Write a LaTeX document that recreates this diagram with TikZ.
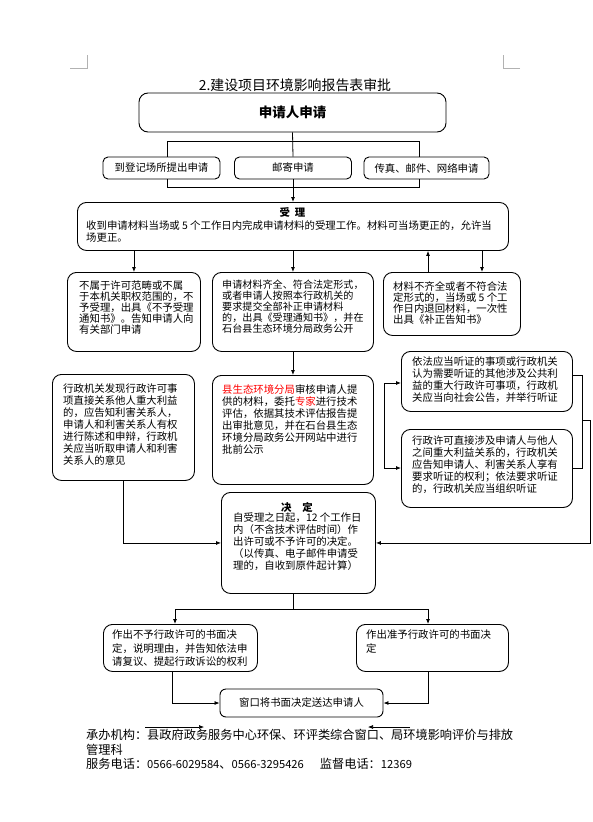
\documentclass[tikz,border=0pt]{standalone}
\usepackage{fontspec}
\setmainfont{Noto Sans CJK SC}
\usetikzlibrary{positioning,arrows.meta}
\newcommand\footfont{\fontsize{12.2}{14}\selectfont}
\newcommand\headfont{\fontsize{13.9}{16}\selectfont}
\newcommand\telno[1]{{\fontsize{11.2}{14}\selectfont #1}}

\begin{document}
\begin{tikzpicture}[x=1pt, y=-1pt,
  font=\fontsize{10.4}{12}\selectfont,
  box/.style={draw, rounded corners=9pt, line width=0.9pt, inner sep=0pt, anchor=north west},
  waybox/.style={draw, rounded corners=5pt, line width=0.9pt, inner sep=0pt, minimum height=22pt},
  txt/.style={align=left, inner sep=0pt, anchor=north west},
  foot/.style={align=left, inner sep=0pt, anchor=west, font=\footfont},
  link/.style={line width=0.8pt},
  arr/.style={-{Latex[length=5pt,width=4pt]}, line width=0.8pt}
]
\useasboundingbox (0,0) rectangle (593,822);

% page corner marks
\draw[gray!60, line width=0.6pt] (70,68) -- (87,68) -- (87,55);
\draw[gray!60, line width=0.6pt] (520,68) -- (503,68) -- (503,55);

% title
\node[font=\headfont] (title) at (295,85) {2.建设项目环境影响报告表审批};

% application
\node[draw, rounded corners=9pt, line width=0.9pt, minimum width=307pt, minimum height=39pt] (apply) at (292.5,112.5) {\fontsize{13.5}{16}\selectfont\bfseries 申请人申请};

\node[waybox, minimum width=117pt] (way1) at (161.5,168) {到登记场所提出申请};
\node[waybox, minimum width=117pt] (way2) at (293,168) {邮寄申请};
\node[waybox, minimum width=125pt] (way3) at (426.5,168) {传真、邮件、网络申请};

% acceptance
\node[box, minimum width=431pt, minimum height=48pt] (accept) at (77,202) {};
\node (acceptHead) at (292.5,212) {\bfseries 受\hspace{5pt}理};
\node[txt] (acceptTxt) at (86,220) {收到申请材料当场或 5 个工作日内完成申请材料的受理工作。材料可当场更正的，允许当\\场更正。};

% row of outcomes
\node[box, minimum width=133pt, minimum height=79pt] (boxA) at (67,272) {};
\node[txt, font=\fontsize{10.4}{11}\selectfont] (boxAtxt) at (79,281) {不属于许可范畴或不属\\于本机关职权范围的，不\\予受理，出具《不予受理\\通知书》。告知申请人向\\有关部门申请};

\node[box, minimum width=161pt, minimum height=79pt] (boxB) at (212,272) {};
\node[txt, font=\fontsize{10.1}{11}\selectfont] (boxBtxt) at (222,280) {申请材料齐全、符合法定形式，\\或者申请人按照本行政机关的\\要求提交全部补正申请材料\\的，出具《受理通知书》，并在\\石台县生态环境分局政务公开};

\node[box, minimum width=137pt, minimum height=63pt] (boxC) at (383,272) {};
\node[txt, font=\fontsize{10.4}{11}\selectfont] (boxCtxt) at (393,281) {材料不齐全或者不符合法\\定形式的，当场或 5 个工\\作日内退回材料，一次性\\出具《补正告知书》};

% review
\node[box, minimum width=142pt, minimum height=106pt] (boxE) at (52,374) {};
\node[txt] (boxEtxt) at (63,384) {行政机关发现行政许可事\\项直接关系他人重大利益\\的，应告知利害关系人，\\申请人和利害关系人有权\\进行陈述和申辩，行政机\\关应当听取申请人和利害\\关系人的意见};

\node[box, minimum width=161pt, minimum height=109pt] (boxF) at (212,375) {};
\node[txt] (boxFtxt) at (222,384) {\textcolor{red}{县生态环境分局}审核申请人提\\供的材料，委托\textcolor{red}{专家}进行技术\\评估，依据其技术评估报告提\\出审批意见，并在石台县生态\\环境分局政务公开网站中进行\\批前公示};

\node[box, minimum width=171pt, minimum height=60pt] (boxD) at (401,351) {};
\node[txt] (boxDtxt) at (412,356) {依法应当听证的事项或行政机关\\认为需要听证的其他涉及公共利\\益的重大行政许可事项，行政机\\关应当向社会公告，并举行听证};

\node[box, minimum width=171pt, minimum height=78pt] (boxG) at (401,429) {};
\node[txt] (boxGtxt) at (412,436) {行政许可直接涉及申请人与他人\\之间重大利益关系的，行政机关\\应告知申请人、利害关系人享有\\要求听证的权利；依法要求听证\\的，行政机关应当组织听证};

% decision
\node[box, minimum width=154pt, minimum height=101pt] (decide) at (221,492) {};
\node (decideHead) at (297,507) {\bfseries 决\hspace{11pt}定};
\node[txt] (decideTxt) at (233,513) {自受理之日起，12 个工作日\\内（不含技术评估时间）作\\出许可或不予许可的决定。\\（以传真、电子邮件申请受\\理的，自收到原件起计算）};

\node[box, minimum width=154pt, minimum height=47pt] (boxH) at (103,624) {};
\node[txt, font=\fontsize{10.4}{13.5}\selectfont] (boxHtxt) at (112,630) {作出不予行政许可的书面决\\定，说明理由，并告知依法申\\请复议、提起行政诉讼的权利};

\node[box, minimum width=152pt, minimum height=47pt] (boxI) at (356,624) {};
\node[txt, font=\fontsize{10.4}{13.5}\selectfont] (boxItxt) at (366,630) {作出准予行政许可的书面决\\定};

\node[draw, rounded corners=6pt, line width=0.9pt, minimum width=163pt, minimum height=28pt] (final) at (301.5,703) {窗口将书面决定送达申请人};

% footer
\node[foot] (office) at (86,735) {承办机构：县政府政务服务中心环保、环评类综合窗口、局环境影响评价与排放};
\node[foot] (office2) at (86,750) {管理科};
\node[foot] (phone) at (86,764) {服务电话：\telno{0566-6029584}、\telno{0566-3295426}\hspace{16pt}监督电话：\telno{12369}};

% connectors: application ways
\coordinate (splitL) at (167,141);
\coordinate (splitR) at (419,141);
\coordinate (joinL) at (167,187);
\coordinate (joinR) at (419,187);
\draw[link] (apply.south) -- (way2.north);
\draw[link] (splitL |- way1.north) -- (splitL) -- (splitR) -- (splitR |- way3.north);
\draw[link] (joinL |- way1.south) -- (joinL) -- (joinR) -- (joinR |- way3.south);
\draw[link] (way2.south) -- (way2.south |- joinL);
\draw[arr] (way2.south |- joinL) -- (accept.north -| way2.south);

% connectors: acceptance
\coordinate (backC) at (428,0);
\coordinate (toC) at (482,0);
\draw[arr] (accept.south -| boxA.north) -- (boxA.north);
\draw[arr] (accept.south -| boxB.north) -- (boxB.north);
\draw[arr] (backC |- boxC.north) -- (backC |- accept.south);
\draw[arr] (toC |- accept.south) -- (toC |- boxC.north);

% connectors: review and hearing
\draw[arr] (boxB.south) -- (boxF.north);
\coordinate (hearTop) at (384,383);
\coordinate (hearBot) at (384,468);
\draw[link] (hearTop) -- (hearBot);
\draw[arr] (hearTop) -- (hearTop -| boxD.west);
\draw[arr] (hearBot) -- (hearBot -| boxG.west);
\coordinate (rTop) at (582,375);
\coordinate (rBot) at (582,468);
\coordinate (rMid) at (582,420);
\coordinate (rOut) at (590,420);
\draw[link] (rTop -| boxD.east) -- (rTop) -- (rBot) -- (rBot -| boxG.east);
\draw[arr] (rMid) -- (rOut) |- (decide.east);
\draw[arr] (boxE.south) |- (decide.west);

% connectors: decisions
\coordinate (outSplit) at (293,609);
\coordinate (outL) at (175,609);
\coordinate (outR) at (428,609);
\draw[link] (outSplit |- decide.south) -- (outSplit);
\draw[link] (outL) -- (outR);
\draw[arr] (outL) -- (outL |- boxH.north);
\draw[arr] (outR) -- (outR |- boxI.north);
\coordinate (noDown) at (172,0);
\coordinate (yesDown) at (428,0);
\draw[arr] (noDown |- boxH.south) |- (final.west);
\draw[arr] (yesDown |- boxI.south) |- (final.east);

% stray arrows over the footer
\coordinate (strayA) at (145,727);
\coordinate (strayB) at (204,727);
\coordinate (strayC) at (410,727);
\coordinate (strayD) at (368,727);
\draw[arr, line width=0.6pt] (strayA) -- (strayB);
\draw[arr, line width=0.6pt] (strayC) -- (strayD);

\end{tikzpicture}
\end{document}
